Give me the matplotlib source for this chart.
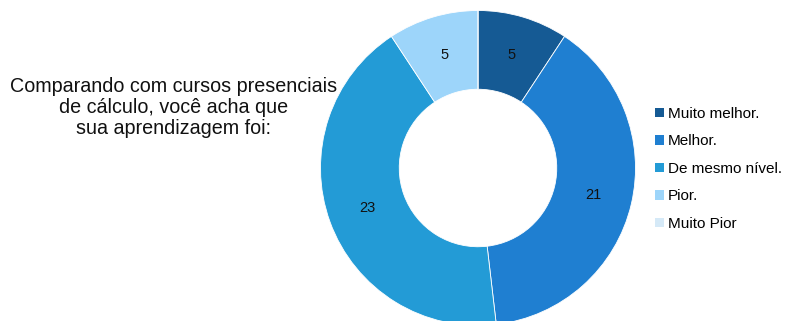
import matplotlib
matplotlib.use("Agg")
import matplotlib.pyplot as plt

categories = ["Muito melhor.", "Melhor.", "De mesmo nível.", "Pior.", "Muito Pior"]
values = [5, 21, 23, 5, 0]
colors = ["#155a94", "#1f7fd1", "#239bd6", "#9dd5fa", "#d5e9f7"]
title = "Comparando com cursos presenciais\nde cálculo, você acha que\nsua aprendizagem foi:"

plt.rcParams['font.family'] = ['Liberation Sans', 'DejaVu Sans']

W, H = 785, 321
fig = plt.figure(figsize=(W / 100, H / 100), dpi=100)

cx, cy, R = 478, 168, 157.5
ax = fig.add_axes([(cx - R) / W, (H - cy - R) / H, 2 * R / W, 2 * R / H])
wedges, texts = ax.pie(
    values, colors=colors, startangle=90, counterclock=False,
    radius=1.0, wedgeprops=dict(width=0.5, edgecolor="white", linewidth=0.6),
    labels=[str(v) if v > 0 else "" for v in values], labeldistance=0.75,
    textprops=dict(fontsize=10.5, color="#111111", ha="center", va="center"),
)
ax.set_xlim(-1, 1)
ax.set_ylim(-1, 1)
ax.set_aspect("equal")
ax.axis("off")
for w in wedges:
    w.set_clip_on(False)

fig.text(174 / W, 1 - 77 / H, title, ha="center", va="top", fontsize=14.2,
         linespacing=1.14, color="#111111")

leg = fig.legend(wedges, categories, loc="upper left",
                 bbox_to_anchor=(655 / W, 1 - 107 / H), frameon=False,
                 fontsize=11, handlelength=0.6, handleheight=0.6,
                 handletextpad=0.25, labelspacing=0.88, borderpad=0,
                 borderaxespad=0)
for h in leg.legend_handles:
    h.set_linewidth(0)

fig.savefig("out.png", dpi=100)
